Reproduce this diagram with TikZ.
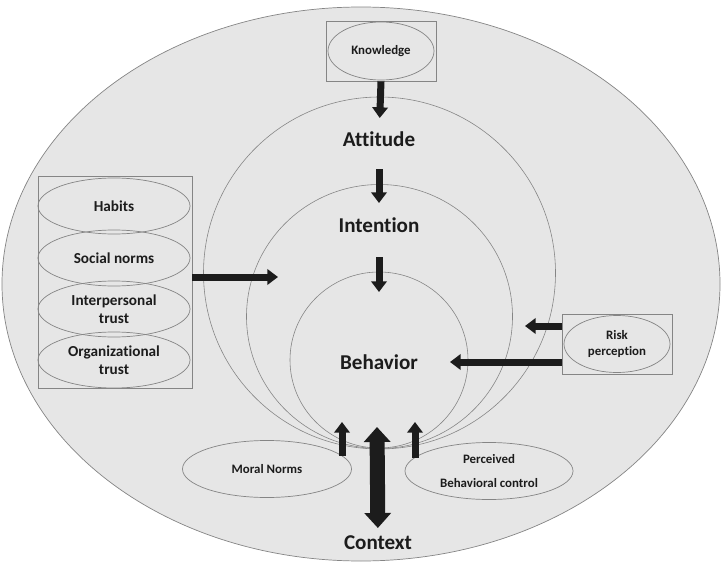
\documentclass[tikz,border=0pt]{standalone}
\usepackage{fontspec}
\setmainfont{Carlito}[Ligatures=NoCommon]
\usetikzlibrary{arrows.meta,shapes.geometric}
\definecolor{bgfill}{HTML}{E6E6E6}
\definecolor{edge}{HTML}{858585}
\definecolor{ink}{HTML}{1C1C1C}

\begin{document}
\begin{tikzpicture}[x=0.03cm,y=-0.03cm,
	oval/.style={ellipse,draw=edge,line width=0.6pt,inner sep=0pt,text=ink,align=center,font=\fontsize{11}{13}\selectfont\bfseries},
	frame/.style={draw=edge,line width=0.6pt,minimum width=3.3cm,minimum height=1.8cm,inner sep=0pt},
	ring/.style={draw=edge,line width=0.5pt},
	big/.style={text=ink,font=\fontsize{18}{20}\selectfont\bfseries,inner sep=0pt},
	fat/.style={line width=0.21cm,ink,-{Triangle[length=0.32cm,width=0.46cm]}},
	dbl/.style={line width=0.45cm,ink,{Triangle[length=0.45cm,width=0.78cm]}-{Triangle[length=0.45cm,width=0.78cm]}}]
	\useasboundingbox (0,0) rectangle (723,563);
	\draw[draw=edge,fill=bgfill,line width=0.6pt] (361,284) ellipse [x radius=359,y radius=277];
	\draw[ring] (379.5,273) ellipse [x radius=176,y radius=176];
	\draw[ring] (379.5,316.5) ellipse [x radius=133,y radius=132];
	\draw[ring] (379,360) ellipse [x radius=89,y radius=88];
	% knowledge on top
	\node[frame] (knowbox) at (381,51) {};
	\node[oval,minimum width=3.18cm,minimum height=1.74cm] (know) at (381,51) {Knowledge};
	\node[big] (att) at (379,139) {Attitude};
	\node[big] (int) at (379,225) {Intention};
	\node[big] (beh) at (379,362) {Behavior};
	\node[big] (ctx) at (378,543) {Context};
	% left group
	\node[frame,minimum width=4.62cm,minimum height=6.36cm] (leftbox) at (115,282) {};
	\node[oval,font=\fontsize{13}{15}\selectfont\bfseries,minimum width=4.56cm,minimum height=1.68cm] (hab) at (114,206) {Habits};
	\node[oval,font=\fontsize{13}{15}\selectfont\bfseries,minimum width=4.56cm,minimum height=1.68cm] (soc) at (114,258) {Social norms};
	\node[oval,font=\fontsize{13}{15}\selectfont\bfseries,minimum width=4.56cm,minimum height=1.68cm] (inter) at (114,309) {Interpersonal\\trust};
	\node[oval,font=\fontsize{13}{15}\selectfont\bfseries,minimum width=4.56cm,minimum height=1.68cm] (org) at (114,360) {Organizational\\trust};
	% risk
	\node[frame] (riskbox) at (617,344) {};
	\node[oval,minimum width=3.18cm,minimum height=1.71cm] (risk) at (617,344) {Risk\\perception};
	% bottom
	\node[oval,fill=bgfill,minimum width=5.07cm,minimum height=1.71cm] (moral) at (267,469) {Moral Norms};
	\node[oval,fill=bgfill,minimum width=5.04cm,minimum height=1.71cm,font=\fontsize{11}{21}\selectfont\bfseries] (pbc) at (489,471) {Perceived\\Behavioral control};
	\coordinate (socin) at (278,277);
	\coordinate (riskup) at (525,326);
	\coordinate (mtip) at (342,422);
	\coordinate (ptip) at (415,422);
	\coordinate (dtop) at (377,427);
	\draw[fat,shorten >=0.63cm] (knowbox.south) -- (att.center);
	\draw[fat,shorten <=0.9cm,shorten >=0.66cm] (att.center) -- (int.center);
	\draw[fat,shorten <=0.96cm,shorten >=2.1cm] (int.center) -- (beh.center);
	\draw[fat] (leftbox.east |- socin) -- (socin);
	\draw[fat] (riskbox.west |- riskup) -- (riskup);
	\draw[fat,shorten >=2.13cm] (riskbox.west |- beh) -- (beh.center);
	\draw[fat] (moral.10 -| mtip) -- (mtip);
	\draw[fat] (pbc.170 -| ptip) -- (ptip);
	\draw[dbl,shorten >=0.45cm] (dtop) -- (ctx.center);
\end{tikzpicture}
\end{document}
